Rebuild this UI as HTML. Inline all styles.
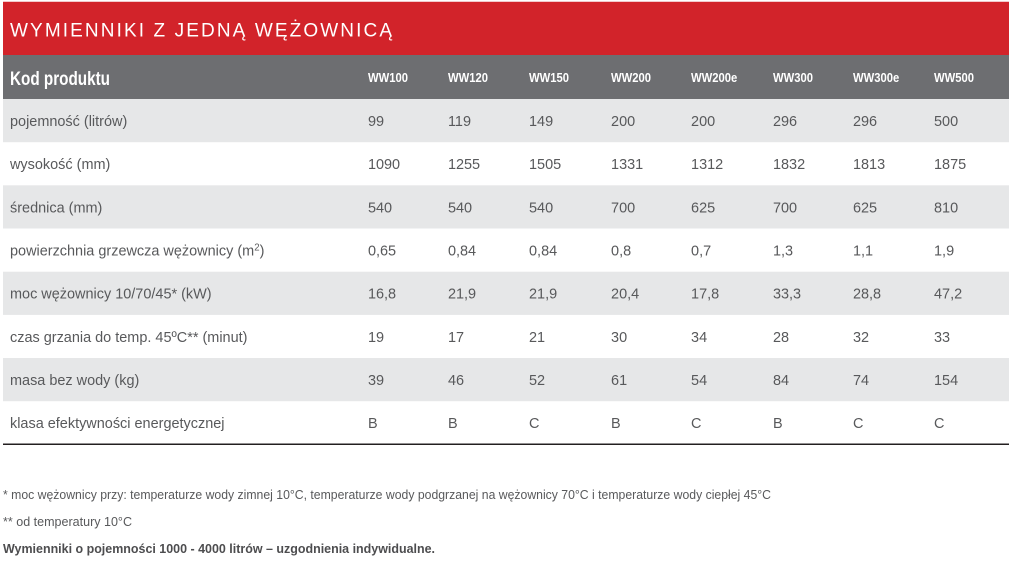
<!DOCTYPE html>
<html>
<head>
<meta charset="utf-8">
<style>
html,body{margin:0;padding:0;background:#fff;}
body{width:1011px;height:561px;overflow:hidden;}
svg{display:block;}
text{font-family:"Liberation Sans", Arial, sans-serif;}
.lbl{font-size:15px;fill:#58595b;}
.hd{font-size:12.5px;font-weight:bold;fill:#fff;}
.fn{font-size:13px;fill:#58595b;}
</style>
</head>
<body>
<svg width="1011" height="561" viewBox="0 0 1011 561" xmlns="http://www.w3.org/2000/svg">
  <rect x="0" y="0" width="1011" height="561" fill="#ffffff"/>
  <rect x="3" y="1" width="1006" height="1" fill="#f3c9cb"/>
  <rect x="3" y="2" width="1006" height="53" fill="#d2232a"/>
  <rect x="3" y="55" width="1006" height="44" fill="#6d6e71"/>
  <rect x="3" y="99" width="1006" height="43.2" fill="#e6e7e8"/>
  <rect x="3" y="185.3" width="1006" height="43.2" fill="#e6e7e8"/>
  <rect x="3" y="271.7" width="1006" height="43.2" fill="#e6e7e8"/>
  <rect x="3" y="358" width="1006" height="43.2" fill="#e6e7e8"/>
  <rect x="3" y="443.5" width="1006" height="1.5" fill="#231f20"/>

  <text x="10" y="36.5" font-size="19" fill="#ffffff" textLength="382" lengthAdjust="spacing">WYMIENNIKI Z JEDNĄ WĘŻOWNICĄ</text>

  <text x="10" y="85" font-size="19" font-weight="bold" fill="#ffffff" textLength="100" lengthAdjust="spacingAndGlyphs">Kod produktu</text>

  <g transform="scale(0.9,1)" class="hd">
    <text x="408.9" y="82">WW100</text>
    <text x="497.8" y="82">WW120</text>
    <text x="587.8" y="82">WW150</text>
    <text x="678.9" y="82">WW200</text>
    <text x="767.8" y="82">WW200e</text>
    <text x="858.9" y="82">WW300</text>
    <text x="947.8" y="82">WW300e</text>
    <text x="1037.8" y="82">WW500</text>
  </g>

  <g transform="scale(0.965,1)" class="lbl">
    <!-- labels x=10 -->
    <text x="10.36" y="126">pojemność (litrów)</text>
    <text x="10.36" y="169.2">wysokość (mm)</text>
    <text x="10.36" y="212.3">średnica (mm)</text>
    <text x="10.36" y="255.5">powierzchnia grzewcza wężownicy (m<tspan font-size="10" dy="-5">2</tspan><tspan dy="5">)</tspan></text>
    <text x="10.36" y="298.7">moc wężownicy 10/70/45* (kW)</text>
    <text x="10.36" y="341.8">czas grzania do temp. 45ºC** (minut)</text>
    <text x="10.36" y="385">masa bez wody (kg)</text>
    <text x="10.36" y="428.2">klasa efektywności energetycznej</text>

    <!-- col 1 x=368 -->
    <text x="381.3" y="126">99</text>
    <text x="381.3" y="169.2">1090</text>
    <text x="381.3" y="212.3">540</text>
    <text x="381.3" y="255.5">0,65</text>
    <text x="381.3" y="298.7">16,8</text>
    <text x="381.3" y="341.8">19</text>
    <text x="381.3" y="385">39</text>
    <text x="381.3" y="428.2">B</text>
    <!-- col 2 x=448 -->
    <text x="464.2" y="126">119</text>
    <text x="464.2" y="169.2">1255</text>
    <text x="464.2" y="212.3">540</text>
    <text x="464.2" y="255.5">0,84</text>
    <text x="464.2" y="298.7">21,9</text>
    <text x="464.2" y="341.8">17</text>
    <text x="464.2" y="385">46</text>
    <text x="464.2" y="428.2">B</text>
    <!-- col 3 x=529 -->
    <text x="548.2" y="126">149</text>
    <text x="548.2" y="169.2">1505</text>
    <text x="548.2" y="212.3">540</text>
    <text x="548.2" y="255.5">0,84</text>
    <text x="548.2" y="298.7">21,9</text>
    <text x="548.2" y="341.8">21</text>
    <text x="548.2" y="385">52</text>
    <text x="548.2" y="428.2">C</text>
    <!-- col 4 x=611 -->
    <text x="633.2" y="126">200</text>
    <text x="633.2" y="169.2">1331</text>
    <text x="633.2" y="212.3">700</text>
    <text x="633.2" y="255.5">0,8</text>
    <text x="633.2" y="298.7">20,4</text>
    <text x="633.2" y="341.8">30</text>
    <text x="633.2" y="385">61</text>
    <text x="633.2" y="428.2">B</text>
    <!-- col 5 x=691 -->
    <text x="716.1" y="126">200</text>
    <text x="716.1" y="169.2">1312</text>
    <text x="716.1" y="212.3">625</text>
    <text x="716.1" y="255.5">0,7</text>
    <text x="716.1" y="298.7">17,8</text>
    <text x="716.1" y="341.8">34</text>
    <text x="716.1" y="385">54</text>
    <text x="716.1" y="428.2">C</text>
    <!-- col 6 x=773 -->
    <text x="801.0" y="126">296</text>
    <text x="801.0" y="169.2">1832</text>
    <text x="801.0" y="212.3">700</text>
    <text x="801.0" y="255.5">1,3</text>
    <text x="801.0" y="298.7">33,3</text>
    <text x="801.0" y="341.8">28</text>
    <text x="801.0" y="385">84</text>
    <text x="801.0" y="428.2">B</text>
    <!-- col 7 x=853 -->
    <text x="883.9" y="126">296</text>
    <text x="883.9" y="169.2">1813</text>
    <text x="883.9" y="212.3">625</text>
    <text x="883.9" y="255.5">1,1</text>
    <text x="883.9" y="298.7">28,8</text>
    <text x="883.9" y="341.8">32</text>
    <text x="883.9" y="385">74</text>
    <text x="883.9" y="428.2">C</text>
    <!-- col 8 x=934 -->
    <text x="967.9" y="126">500</text>
    <text x="967.9" y="169.2">1875</text>
    <text x="967.9" y="212.3">810</text>
    <text x="967.9" y="255.5">1,9</text>
    <text x="967.9" y="298.7">47,2</text>
    <text x="967.9" y="341.8">33</text>
    <text x="967.9" y="385">154</text>
    <text x="967.9" y="428.2">C</text>
  </g>

  <text class="fn" x="3" y="499" textLength="768" lengthAdjust="spacingAndGlyphs">* moc wężownicy przy: temperaturze wody zimnej 10°C, temperaturze wody podgrzanej na wężownicy 70°C i temperaturze wody ciepłej 45°C</text>
  <text class="fn" x="3" y="526" textLength="129" lengthAdjust="spacingAndGlyphs">** od temperatury 10°C</text>
  <text x="3" y="553" font-size="13" font-weight="bold" fill="#4d4d4f" textLength="432" lengthAdjust="spacingAndGlyphs">Wymienniki o pojemności 1000 - 4000 litrów – uzgodnienia indywidualne.</text>
</svg>
</body>
</html>
